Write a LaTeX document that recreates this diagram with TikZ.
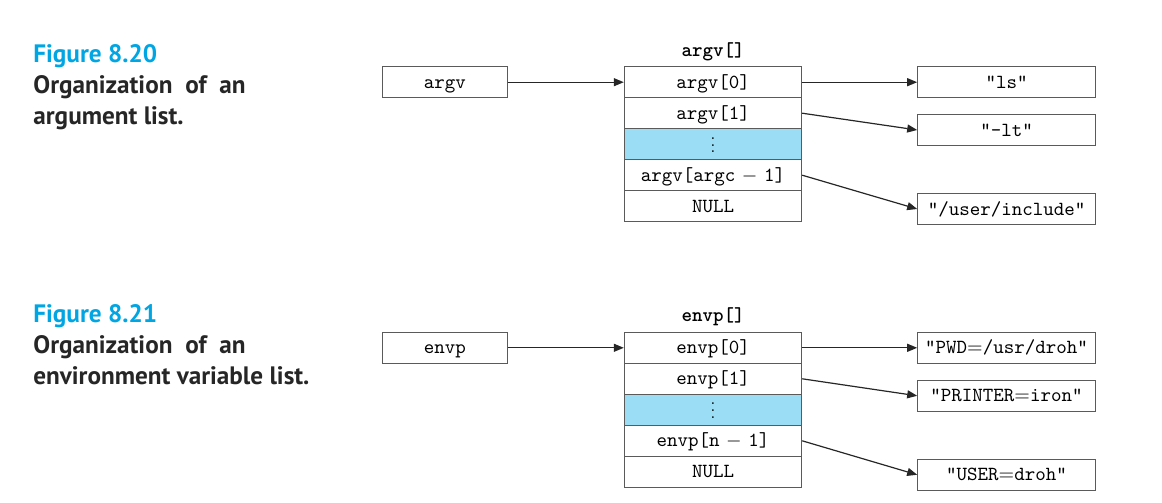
\documentclass[tikz,border=0pt]{standalone}
\usepackage{fontspec}
\newfontfamily\capfont{PT Sans}
\usetikzlibrary{arrows.meta}
\definecolor{figblue}{RGB}{0,165,227}
\definecolor{cellblue}{RGB}{154,221,245}
\definecolor{boxgray}{RGB}{90,90,90}

\newcommand{\cellminus}{$\mskip6mu-\mskip6mu$}
\newcommand{\celldots}{\raisebox{-1.3pt}{\scalebox{0.85}{$\vdots$}}}

\tikzset{
  box/.style={draw=boxgray, line width=0.5pt, inner sep=0pt, minimum height=15.5pt,
              text height=8pt, text depth=2pt, font=\ttfamily},
  ptrbox/.style={box, minimum width=62.15pt},
  cell/.style={box, minimum width=88.7pt, fill=white},
  dotcell/.style={cell, fill=cellblue, font=\normalfont},
  strbox/.style={box, minimum width=88.8pt},
  ptr/.style={draw=black!85, line width=0.6pt, -{Triangle[length=5pt,width=4pt]}},
  capfont/.style={font=\capfont\bfseries\fontsize{12.6}{15}\selectfont},
  figlabel/.style={capfont, anchor=base west, inner sep=0pt, text=figblue},
  captext/.style={capfont, anchor=base west, inner sep=0pt, text=black!85},
  arrtitle/.style={font=\ttfamily\bfseries, inner sep=0pt, anchor=base}
}

\begin{document}
\begin{tikzpicture}[x=0.5pt, y=-0.5pt]
\useasboundingbox (0,0) rectangle (1162,503);

% ---------- argument list ----------
\node[figlabel] (cap1a) at (33,62) {Figure 8.20};
\node[captext]  (cap1b) at (33,93) {Organization\ \ of\ \ an};
\node[captext]  (cap1c) at (33,124) {argument list.};

\node[arrtitle] (argvt) at (713,56) {argv[]};
\node[ptrbox] (argv) at (444.85,82.2) {argv};

\node[cell]    (a0) at (713,82.2)  {argv[0]};
\node[cell]    (a1) at (713,113.2) {argv[1]};
\node[dotcell] (a2) at (713,144.2) {\celldots};
\node[cell]    (a3) at (713,175.2) {argv[argc\cellminus 1]};
\node[cell]    (a4) at (713,206.2) {NULL};

\node[strbox] (s0) at (1006.5,82.2) {"ls"};
\node[strbox] (s1) at (1006.5,130)  {"-lt"};
\node[strbox] (s2) at (1006.5,209)  {"/user/include"};

\draw[ptr] (argv.east) -- (a0.west);
\draw[ptr] (a0.east) -- (s0.west);
\draw[ptr] (a1.east) -- (s1.west);
\draw[ptr] (a3.east) -- (s2.west);

% ---------- environment variable list ----------
\node[figlabel] (cap2a) at (33,322) {Figure 8.21};
\node[captext]  (cap2b) at (33,353) {Organization\ \ of\ \ an};
\node[captext]  (cap2c) at (33,384) {environment variable list.};

\node[arrtitle] (envpt) at (713,321.6) {envp[]};
\node[ptrbox] (envp) at (444.85,347.8) {envp};

\node[cell]    (e0) at (713,347.8) {envp[0]};
\node[cell]    (e1) at (713,378.8) {envp[1]};
\node[dotcell] (e2) at (713,409.8) {\celldots};
\node[cell]    (e3) at (713,440.8) {envp[n\cellminus 1]};
\node[cell]    (e4) at (713,471.8) {NULL};

\node[strbox] (t0) at (1006.5,347.8) {"PWD$=$/usr/droh"};
\node[strbox] (t1) at (1006.5,395.8) {"PRINTER$=$iron"};
\node[strbox] (t2) at (1006.5,474.8) {"USER$=$droh"};

\draw[ptr] (envp.east) -- (e0.west);
\draw[ptr] (e0.east) -- (t0.west);
\draw[ptr] (e1.east) -- (t1.west);
\draw[ptr] (e3.east) -- (t2.west);
\end{tikzpicture}
\end{document}
